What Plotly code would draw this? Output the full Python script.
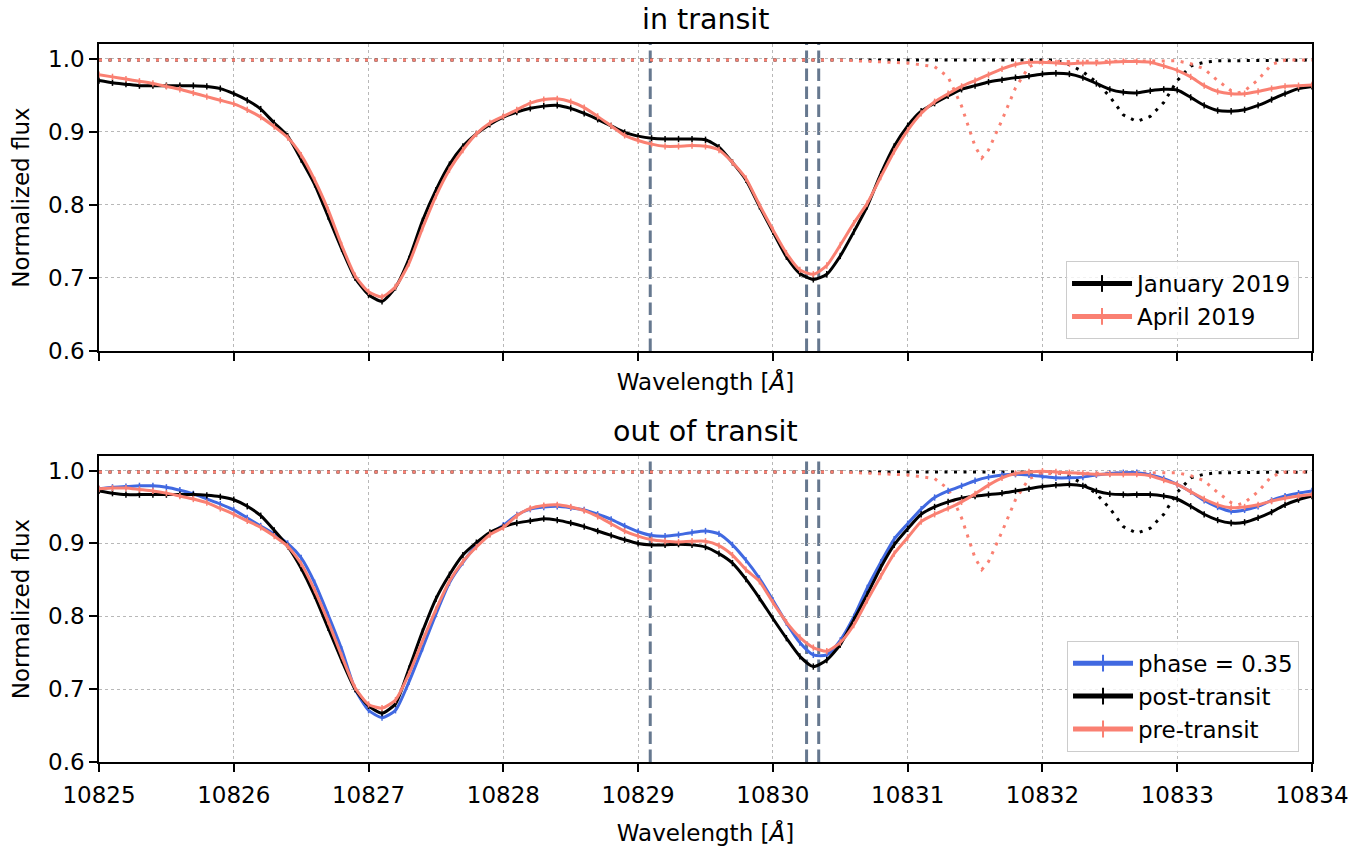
import numpy as np
import plotly.graph_objects as go

# ---------------- data ----------------
wave = np.round(np.linspace(10825.0, 10834.0, 91), 2)

jan_in = [0.970, 0.967, 0.965, 0.963, 0.963, 0.963, 0.963, 0.963, 0.962, 0.959,
          0.952, 0.943, 0.931, 0.912, 0.894, 0.862, 0.828, 0.784, 0.740, 0.700,
          0.677, 0.668, 0.687, 0.726, 0.778, 0.820, 0.855, 0.880, 0.897, 0.910,
          0.920, 0.927, 0.932, 0.935, 0.936, 0.932, 0.925, 0.917, 0.908, 0.899,
          0.894, 0.891, 0.890, 0.890, 0.890, 0.889, 0.879, 0.858, 0.834, 0.798,
          0.763, 0.729, 0.706, 0.698, 0.705, 0.730, 0.763, 0.798, 0.842, 0.880,
          0.908, 0.928, 0.939, 0.949, 0.958, 0.963, 0.968, 0.971, 0.974, 0.976,
          0.979, 0.980, 0.979, 0.974, 0.966, 0.958, 0.954, 0.953, 0.956, 0.958,
          0.957, 0.947, 0.936, 0.929, 0.928, 0.930, 0.936, 0.944, 0.952, 0.959,
          0.962]

apr_in = [0.978, 0.975, 0.972, 0.969, 0.966, 0.962, 0.958, 0.953, 0.948, 0.943,
          0.938, 0.930, 0.920, 0.907, 0.892, 0.868, 0.834, 0.793, 0.745, 0.703,
          0.681, 0.674, 0.688, 0.720, 0.768, 0.812, 0.848, 0.875, 0.897, 0.912,
          0.921, 0.930, 0.939, 0.944, 0.945, 0.941, 0.933, 0.921, 0.908, 0.895,
          0.888, 0.883, 0.880, 0.880, 0.881, 0.880, 0.875, 0.858, 0.836, 0.800,
          0.766, 0.734, 0.711, 0.705, 0.717, 0.745, 0.775, 0.802, 0.838, 0.873,
          0.902, 0.925, 0.941, 0.952, 0.962, 0.970, 0.978, 0.986, 0.992, 0.995,
          0.995, 0.994, 0.993, 0.994, 0.994, 0.995, 0.996, 0.996, 0.995, 0.990,
          0.984, 0.975, 0.963, 0.955, 0.952, 0.952, 0.955, 0.959, 0.962, 0.963,
          0.964]

phase035 = [0.975, 0.977, 0.978, 0.979, 0.979, 0.977, 0.973, 0.968, 0.961, 0.954,
            0.946, 0.935, 0.924, 0.913, 0.900, 0.880, 0.846, 0.802, 0.755, 0.700,
            0.671, 0.661, 0.671, 0.710, 0.756, 0.803, 0.846, 0.874, 0.897, 0.913,
            0.925, 0.939, 0.947, 0.950, 0.951, 0.949, 0.946, 0.940, 0.933, 0.924,
            0.916, 0.911, 0.910, 0.912, 0.915, 0.917, 0.913, 0.898, 0.877, 0.852,
            0.822, 0.791, 0.764, 0.747, 0.747, 0.767, 0.799, 0.839, 0.874, 0.906,
            0.927, 0.947, 0.963, 0.972, 0.979, 0.986, 0.991, 0.994, 0.995, 0.994,
            0.992, 0.990, 0.990, 0.991, 0.994, 0.996, 0.997, 0.997, 0.994, 0.989,
            0.981, 0.971, 0.959, 0.950, 0.944, 0.946, 0.951, 0.959, 0.965, 0.969,
            0.972]

post_tr = [0.972, 0.969, 0.967, 0.967, 0.967, 0.967, 0.967, 0.967, 0.966, 0.964,
           0.960, 0.951, 0.938, 0.918, 0.896, 0.866, 0.828, 0.784, 0.740, 0.700,
           0.677, 0.667, 0.680, 0.728, 0.779, 0.824, 0.857, 0.884, 0.901, 0.915,
           0.923, 0.928, 0.931, 0.934, 0.932, 0.928, 0.923, 0.917, 0.911, 0.905,
           0.900, 0.898, 0.898, 0.899, 0.898, 0.895, 0.886, 0.873, 0.851, 0.825,
           0.797, 0.770, 0.745, 0.731, 0.740, 0.761, 0.795, 0.830, 0.867, 0.898,
           0.920, 0.940, 0.950, 0.957, 0.962, 0.965, 0.967, 0.969, 0.972, 0.975,
           0.978, 0.980, 0.981, 0.979, 0.972, 0.968, 0.967, 0.967, 0.967, 0.965,
           0.961, 0.951, 0.940, 0.932, 0.928, 0.929, 0.935, 0.943, 0.953, 0.960,
           0.965]

pre_tr = [0.975, 0.976, 0.976, 0.974, 0.972, 0.969, 0.965, 0.961, 0.956, 0.948,
          0.940, 0.931, 0.922, 0.910, 0.896, 0.872, 0.836, 0.793, 0.746, 0.702,
          0.679, 0.674, 0.685, 0.721, 0.766, 0.809, 0.848, 0.875, 0.895, 0.912,
          0.922, 0.938, 0.948, 0.952, 0.953, 0.950, 0.945, 0.937, 0.927, 0.917,
          0.910, 0.905, 0.903, 0.902, 0.903, 0.903, 0.897, 0.884, 0.864, 0.848,
          0.819, 0.792, 0.771, 0.757, 0.752, 0.764, 0.788, 0.822, 0.855, 0.886,
          0.908, 0.930, 0.940, 0.948, 0.957, 0.968, 0.980, 0.990, 0.996, 0.998,
          0.999, 0.998, 0.997, 0.996, 0.995, 0.995, 0.995, 0.995, 0.993, 0.987,
          0.981, 0.971, 0.961, 0.953, 0.949, 0.950, 0.953, 0.958, 0.962, 0.965,
          0.967]

# telluric models (dotted)
tell_jan_wave = [10825.0, 10832.1, 10832.2, 10832.3, 10832.4, 10832.5, 10832.6,
                 10832.7, 10832.8, 10832.9, 10833.0, 10833.1, 10833.2, 10833.3, 10834.0]
tell_jan = [0.998, 0.998, 0.992, 0.982, 0.968, 0.948, 0.923,
            0.914, 0.921, 0.940, 0.970, 0.990, 0.995, 0.997, 0.998]

tell_apr_wave = [10825.0, 10830.5, 10831.0, 10831.2, 10831.3, 10831.4, 10831.5,
                 10831.55, 10831.6, 10831.7, 10831.8, 10831.9, 10832.0, 10833.0,
                 10833.1, 10833.2, 10833.3, 10833.4, 10833.45, 10833.5, 10833.6,
                 10833.7, 10833.8, 10834.0]
tell_apr = [0.998, 0.998, 0.994, 0.989, 0.975, 0.935, 0.880,
            0.864, 0.875, 0.916, 0.960, 0.989, 0.996, 0.997,
            0.993, 0.986, 0.970, 0.956, 0.953, 0.956, 0.971,
            0.992, 0.998, 0.998]

he_lines = [10829.09, 10830.25, 10830.34]

xticks = [10825, 10826, 10827, 10828, 10829, 10830, 10831, 10832, 10833, 10834]
yticks = [0.6, 0.7, 0.8, 0.9, 1.0]

BLACK = "#000000"
SALMON = "#FA8072"
BLUE = "#4169E1"
FONT = "DejaVu Sans"
FS = 23
TFS = 28.5

fig = go.Figure()


def add_tell(x, y, color, xa, ya):
    fig.add_trace(go.Scatter(x=x, y=y, mode="lines", showlegend=False,
                             line=dict(color=color, width=3, dash="3px,6.5px"),
                             xaxis=xa, yaxis=ya, hoverinfo="skip"))


def add_curve(y, color, name, xa, ya, legend):
    fig.add_trace(go.Scatter(x=wave, y=y, mode="lines+markers", name=name,
                             line=dict(color=color, width=3, shape="spline", smoothing=0.6),
                             marker=dict(symbol="line-ns", size=4.5, color=color,
                                         line=dict(color=color, width=1.5)),
                             xaxis=xa, yaxis=ya, legend=legend))


# top panel
add_tell(tell_jan_wave, tell_jan, BLACK, "x", "y")
add_tell(tell_apr_wave, tell_apr, SALMON, "x", "y")
add_curve(jan_in, BLACK, "January 2019", "x", "y", "legend")
add_curve(apr_in, SALMON, "April 2019", "x", "y", "legend")

# bottom panel
add_tell(tell_jan_wave, tell_jan, BLACK, "x2", "y2")
add_tell(tell_apr_wave, tell_apr, SALMON, "x2", "y2")
add_curve(phase035, BLUE, "phase = 0.35", "x2", "y2", "legend2")
add_curve(post_tr, BLACK, "post-transit", "x2", "y2", "legend2")
add_curve(pre_tr, SALMON, "pre-transit", "x2", "y2", "legend2")

shapes = []
for xr, yr in (("x", "y domain"), ("x2", "y2 domain")):
    for lam in he_lines:
        shapes.append(dict(type="line", xref=xr, yref=yr, x0=lam, x1=lam, y0=0, y1=1,
                           line=dict(color="#66788f", width=3, dash="12.6px,5.4px"),
                           layer="below"))

axis_common = dict(showline=True, linecolor="black", linewidth=1.6, mirror=True,
                   ticks="outside", ticklen=8, tickwidth=1.6, tickcolor="black",
                   showgrid=True, gridcolor="#b8b8b8", griddash="dot", gridwidth=1.1,
                   zeroline=False, automargin=False,
                   tickfont=dict(family=FONT, size=FS, color="black"))

xcommon = dict(axis_common, range=[10825, 10834], tickvals=xticks,
               ticktext=[str(t) for t in xticks])
ycommon = dict(axis_common, range=[0.6, 1.02], tickvals=yticks, tickformat=".1f")

title_font = dict(family=FONT, size=FS, color="black")
legend_common = dict(xanchor="right", yanchor="bottom", x=0.9893,
                     bgcolor="rgba(255,255,255,0.8)", bordercolor="#cccccc", borderwidth=1,
                     font=dict(family=FONT, size=FS, color="black"),
                     itemsizing="constant", itemwidth=60, traceorder="normal")

fig.update_layout(
    width=1367, height=846,
    margin=dict(l=99, r=55, t=44, b=84, autoexpand=False),
    paper_bgcolor="white", plot_bgcolor="white",
    font=dict(family=FONT, size=FS, color="black"),
    xaxis=dict(xcommon, anchor="y", domain=[0, 1], showticklabels=False,
               title=dict(text="Wavelength [<i>Å</i>]", font=title_font, standoff=14)),
    yaxis=dict(ycommon, anchor="x", domain=[0.5724, 1.0],
               title=dict(text="Normalized flux", font=title_font, standoff=12)),
    xaxis2=dict(xcommon, anchor="y2", domain=[0, 1], ticklabelstandoff=4,
                title=dict(text="Wavelength [<i>Å</i>]", font=title_font, standoff=22)),
    yaxis2=dict(ycommon, anchor="x2", domain=[0.0, 0.4262],
                title=dict(text="Normalized flux", font=title_font, standoff=12)),
    shapes=shapes,
    legend=dict(legend_common, y=0.5891),
    legend2=dict(legend_common, y=0.0143),
    annotations=[
        dict(text="in transit", x=0.5, xref="x domain", y=1, yref="y domain",
             xanchor="center", yanchor="bottom", yshift=6, showarrow=False,
             font=dict(family=FONT, size=TFS, color="black")),
        dict(text="out of transit", x=0.5, xref="x2 domain", y=1, yref="y2 domain",
             xanchor="center", yanchor="bottom", yshift=6, showarrow=False,
             font=dict(family=FONT, size=TFS, color="black")),
    ],
    showlegend=True,
)

fig.write_html("out.html", config={"displayModeBar": False},
               post_script="document.body.style.margin='0';")
